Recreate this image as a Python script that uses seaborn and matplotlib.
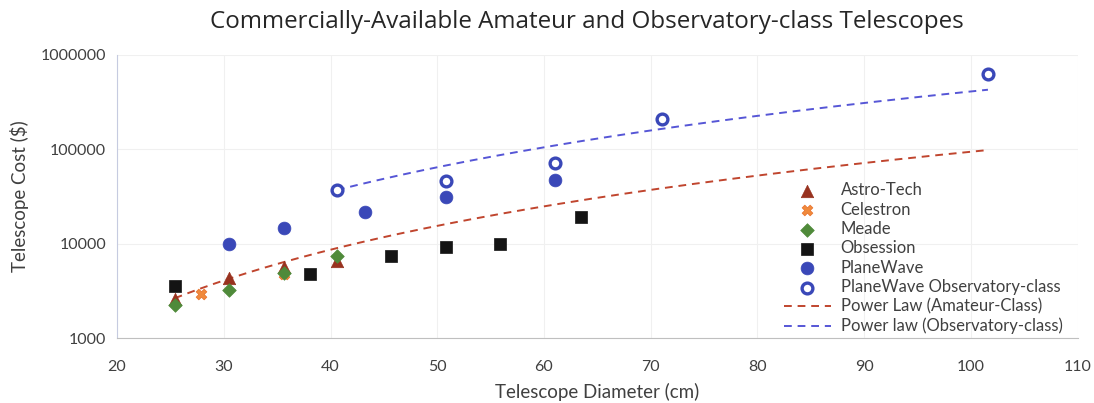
import numpy as np
import pandas as pd
import matplotlib
matplotlib.use("Agg")
import matplotlib.pyplot as plt
import seaborn as sns

# aperture (cm) and cost ($)
astro_d = [25.4, 30.5, 35.6, 40.6]
astro_c = [2600, 4350, 5700, 6600]
celes_d = [27.9, 35.6]
celes_c = [2900, 4750]
meade_d = [25.4, 30.5, 35.6, 40.6]
meade_c = [2240, 3230, 4900, 7400]
obses_d = [25.4, 38.1, 45.7, 50.8, 55.9, 63.5]
obses_c = [3560, 4830, 7400, 9200, 10000, 19400]
pw_d = [30.5, 35.6, 43.2, 50.8, 61.0]
pw_c = [9900, 14700, 21600, 31300, 47500]
pwobs_d = [40.6, 50.8, 61.0, 71.1, 101.6]
pwobs_c = [37300, 46400, 71300, 207000, 621000]

# power-law trendlines  cost = a * d^b  (coefficients)
amat_a, amat_b = 0.575, 2.607
obs_a, obs_b = 1.905, 2.666

sns.set_style("white")
plt.rcParams["font.family"] = ["Lato", "DejaVu Sans"]

fig = plt.figure(figsize=(10.94, 4.03), dpi=100)
ax = fig.add_axes([0.107, 0.161, 0.878, 0.703])

blue = "#3a48b8"

sns.scatterplot(x=obses_d, y=obses_c, marker="s", s=65, color="#141414",
                edgecolor="#141414", linewidth=0.5, label="Obsession", ax=ax, zorder=3)
sns.scatterplot(x=pw_d, y=pw_c, marker="o", s=85, color=blue,
                edgecolor=blue, linewidth=0.5, label="PlaneWave", ax=ax, zorder=3)
sns.scatterplot(x=pwobs_d, y=pwobs_c, marker="o", s=60, facecolor="white",
                edgecolor=blue, linewidth=2.4, label="PlaneWave Observatory-class", ax=ax, zorder=3)
sns.scatterplot(x=celes_d, y=celes_c, marker="X", s=60, color="#f08a3c",
                edgecolor="#e8702a", linewidth=0.5, label="Celestron", ax=ax, zorder=3)
sns.scatterplot(x=astro_d, y=astro_c, marker="^", s=80, color="#98321f",
                edgecolor="#98321f", linewidth=0.5, label="Astro-Tech", ax=ax, zorder=4)
sns.scatterplot(x=meade_d, y=meade_c, marker="D", s=48, color="#4f8a3a",
                edgecolor="#4f8a3a", linewidth=0.5, label="Meade", ax=ax, zorder=5)

amat_x = np.linspace(25.4, 101.6, 200)
obs_x = np.linspace(40.6, 101.6, 200)
sns.lineplot(x=amat_x, y=amat_a * amat_x ** amat_b, color="#c0452e", lw=1.4,
             linestyle=(0, (4, 3)), label="Power Law (Amateur-Class)", ax=ax, zorder=2)
sns.lineplot(x=obs_x, y=obs_a * obs_x ** obs_b, color="#5656d6", lw=1.4,
             linestyle=(0, (4, 3)), label="Power law (Observatory-class)", ax=ax, zorder=2)

ax.set_yscale("log")
ax.set_ylim(1000, 1000000)
ax.set_xlim(20, 110)
ax.set_xticks(range(20, 111, 10))
ax.set_yticks([1000, 10000, 100000, 1000000])
ax.set_yticklabels(["1000", "10000", "100000", "1000000"])
ax.minorticks_off()
ax.tick_params(axis="both", length=0, labelsize=11.5, colors="#404040")
ax.tick_params(axis="x", pad=16)
ax.tick_params(axis="y", pad=8)
ax.grid(True, color="#f0f0f0", lw=0.8)

for s in ["top", "right"]:
    ax.spines[s].set_visible(False)
ax.spines["left"].set_color("#c6cbe0")
ax.spines["bottom"].set_color("#bfbfbf")

ax.set_xlabel("Telescope Diameter (cm)", fontsize=13.5, color="#404040", labelpad=6)
ax.set_ylabel("Telescope Cost ($)", fontsize=13.5, color="#404040", labelpad=8)
fig.suptitle("Commercially-Available Amateur and Observatory-class Telescopes",
             fontsize=17.4, color="#262626", x=0.536, y=0.975, family=["Open Sans", "DejaVu Sans"])

handles, labels = ax.get_legend_handles_labels()
order = ["Astro-Tech", "Celestron", "Meade", "Obsession", "PlaneWave",
         "PlaneWave Observatory-class", "Power Law (Amateur-Class)",
         "Power law (Observatory-class)"]
hmap = dict(zip(labels, handles))
ax.legend([hmap[k] for k in order], order, loc="lower right",
          bbox_to_anchor=(1.0, -0.04), frameon=False, fontsize=12,
          labelspacing=0.2, handlelength=2.8, handletextpad=0.6,
          labelcolor="#404040", borderaxespad=0.5)

fig.savefig("out.png", dpi=100)
